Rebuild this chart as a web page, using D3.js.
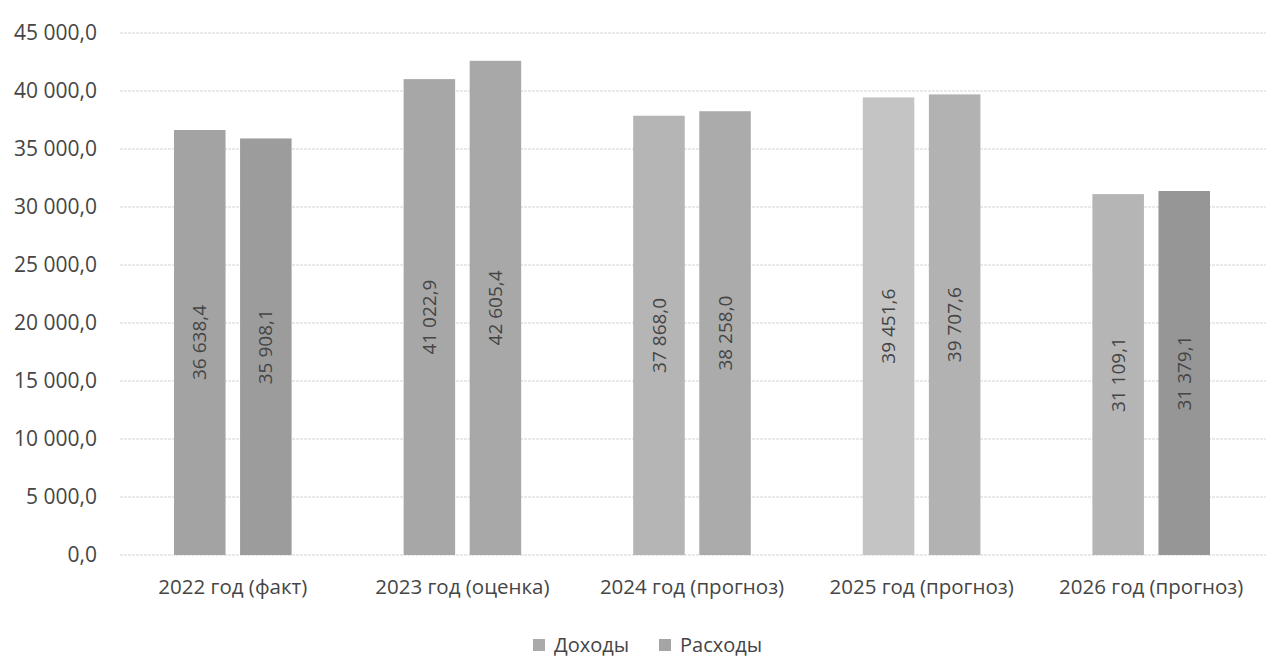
<!DOCTYPE html>
<html>
<head>
<meta charset="utf-8">
<script src="https://cdn.jsdelivr.net/npm/d3@7"></script>
<style>
  body { margin: 0; background: #fff; }
  text { font-family: "Open Sans", sans-serif; fill: #454545; }
</style>
</head>
<body>
<svg id="chart"></svg>
<script>
const categories = ['2022 год (факт)', '2023 год (оценка)', '2024 год (прогноз)', '2025 год (прогноз)', '2026 год (прогноз)'];
const seriesNames = ['Доходы', 'Расходы'];
const incomeValues = [36638.4, 41022.9, 37868.0, 39451.6, 31109.1];
const expenseValues = [35908.1, 42605.4, 38258.0, 39707.6, 31379.1];
const yTicks = [0, 5000, 10000, 15000, 20000, 25000, 30000, 35000, 40000, 45000];

// scanned greys, one per bar (series x category)
const barGreys = [
  ['#a3a3a3', '#a7a7a7', '#b5b5b5', '#c4c4c4', '#b5b5b5'],
  ['#9c9c9c', '#a8a8a8', '#ababab', '#b2b2b2', '#969696'],
];
const legendGreys = ['#aaaaaa', '#a5a5a5'];

const width = 1272;
const height = 667;
const margin = { top: 33, right: 6, bottom: 112, left: 118 };

const svg = d3.select('#chart').
  attr('width', width).
  attr('height', height);

const g = svg.append('g').
  attr('transform', `translate(${margin.left},${margin.top})`);

const innerW = width - margin.left - margin.right;
const innerH = height - margin.top - margin.bottom;

const x0 = d3.scaleBand().domain(categories).range([0, innerW]).paddingInner(0).paddingOuter(0);
const x1 = d3.scaleBand().domain(seriesNames).range([56, x0.bandwidth() - 56]).paddingInner(0.22);
const y = d3.scaleLinear().domain([0, 45000]).range([innerH, 0]);

const fmt = v => d3.format(',.1f')(v).replace(/,/g, ' ').replace('.', ',');

// gridlines
g.selectAll('.grid').
  data(yTicks).
  enter().
  append('line').
  attr('x1', 2).
  attr('x2', innerW).
  attr('y1', d => y(d)).
  attr('y2', d => y(d)).
  attr('stroke', '#d4d4d4').
  attr('stroke-width', 1.2).
  attr('stroke-dasharray', '3,1');

// y labels
g.selectAll('.ylab').
  data(yTicks).
  enter().
  append('text').
  attr('x', -21).
  attr('y', d => y(d)).
  attr('dy', '0.35em').
  attr('text-anchor', 'end').
  style('font-size', '21px').
  text(d => fmt(d));

const dataReady = categories.map((c, i) => ({
  cat: c,
  values: [
    { name: seriesNames[0], s: 0, i: i, value: incomeValues[i] },
    { name: seriesNames[1], s: 1, i: i, value: expenseValues[i] },
  ],
}));

const groups = g.selectAll('.grp').
  data(dataReady).
  enter().
  append('g').
  attr('transform', d => `translate(${x0(d.cat)},0)`);

groups.selectAll('rect').
  data(d => d.values).
  enter().
  append('rect').
  attr('x', d => x1(d.name)).
  attr('y', d => y(d.value)).
  attr('width', x1.bandwidth()).
  attr('height', d => innerH - y(d.value)).
  attr('fill', d => barGreys[d.s][d.i]);

groups.selectAll('.vlab').
  data(d => d.values).
  enter().
  append('text').
  attr('transform', d => `translate(${x1(d.name) + x1.bandwidth() / 2},${(y(d.value) + innerH) / 2}) rotate(-90)`).
  attr('text-anchor', 'middle').
  attr('dy', '0.35em').
  style('font-size', '19px').
  text(d => fmt(d.value));

// x labels
g.selectAll('.xlab').
  data(categories).
  enter().
  append('text').
  attr('x', d => x0(d) + x0.bandwidth() / 2).
  attr('y', innerH + 39).
  attr('text-anchor', 'middle').
  style('font-size', '20.5px').
  text(d => d);

// legend
const legend = svg.append('g').attr('transform', 'translate(533,645)');
const legendX = [0, 126];
seriesNames.forEach((name, i) => {
  legend.append('rect').
    attr('x', legendX[i]).
    attr('y', -6).
    attr('width', 12).
    attr('height', 12).
    attr('fill', legendGreys[i]);
  legend.append('text').
    attr('x', legendX[i] + 21).
    attr('y', 0).
    attr('dy', '0.35em').
    style('font-size', '20px').
    text(name);
});
</script>
</body>
</html>
